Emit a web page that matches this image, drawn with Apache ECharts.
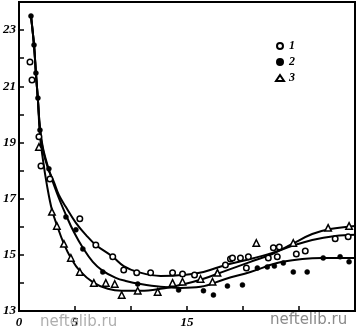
<!DOCTYPE html>
<html>
<head>
<meta charset="utf-8">
<script src="https://cdn.jsdelivr.net/npm/echarts@6/dist/echarts.min.js"></script>
<style>html,body{margin:0;padding:0;background:#fff}#c{width:360px;height:330px}</style>
</head>
<body>
<div id="c"></div>
<script>
// Series 1 (open circles)
var s1X = [0.98,1.16,1.78,1.96,2.76,5.43,6.86,8.37,9.35,10.51,11.75,13.71,14.60,15.67,18.43,18.88,19.06,19.77,20.48,20.30,22.26,23.06,22.71,23.24,24.76,25.56,28.23,29.39];
var s1Y = [21.86,21.22,19.20,18.16,17.70,16.28,15.35,14.93,14.46,14.36,14.36,14.36,14.32,14.28,14.64,14.85,14.89,14.89,14.93,14.53,14.89,14.93,15.25,15.28,15.03,15.14,15.57,15.64];
// Series 2 (filled circles)
var s2X = [1.07,1.34,1.51,1.69,1.87,2.67,4.19,5.08,5.70,7.48,10.60,14.25,16.47,17.36,18.61,19.95,21.28,22.17,22.80,23.60,24.49,25.73,27.16,28.67,29.47];
var s2Y = [23.50,22.47,21.47,20.58,19.44,18.06,16.35,15.89,15.21,14.39,13.96,13.75,13.72,13.57,13.89,13.93,14.53,14.57,14.60,14.71,14.39,14.39,14.89,14.93,14.75];
// Series 3 (open triangles)
var s3X = [1.78,2.94,3.38,4.01,4.63,5.43,6.68,7.75,8.55,9.17,10.60,12.38,13.71,14.60,16.21,17.28,17.72,21.19,24.49,27.60,29.47];
var s3Y = [18.84,16.53,16.03,15.39,14.89,14.39,14.00,14.00,13.96,13.57,13.72,13.68,14.00,14.04,14.14,14.04,14.36,15.42,15.42,15.96,16.03];
// Fitted curves
var c1X = [1.07,1.34,1.51,1.69,1.87,2.14,2.58,3.12,3.56,4.19,5.08,5.97,6.86,8.37,9.35,10.60,12.64,14.69,16.47,18.43,20.66,22.62,24.40,26.18,28.23,30.0];
var c1Y = [23.50,22.47,21.47,20.51,19.52,18.73,18.09,17.59,17.13,16.70,16.14,15.71,15.35,14.93,14.60,14.39,14.25,14.28,14.39,14.64,14.85,15.07,15.32,15.53,15.67,15.71];
var c2X = [1.07,1.34,1.51,1.69,1.87,2.14,2.67,3.38,4.19,4.90,5.70,6.59,7.48,8.64,9.53,10.86,12.64,14.43,16.21,18.43,20.66,23.51,27.07,30.0];
var c2Y = [23.50,22.47,21.47,20.51,19.52,18.80,18.02,17.20,16.42,15.81,15.25,14.75,14.43,14.18,14.07,13.96,13.86,13.82,13.86,14.14,14.39,14.75,14.89,14.89];
var c3X = [1.07,1.34,1.51,1.69,1.87,2.14,2.49,2.94,3.38,4.01,4.63,5.43,6.68,7.93,9.17,10.86,12.64,14.43,16.21,18.43,20.66,22.62,24.40,26.18,27.78,30.0];
var c3Y = [23.50,22.47,21.47,20.51,19.27,18.38,17.49,16.60,16.06,15.39,14.89,14.43,14.00,13.79,13.72,13.72,13.79,13.93,14.11,14.43,14.75,15.03,15.39,15.74,15.92,16.03];
var xLabels = [0,5,15];
var yLabels = [13,15,17,19,21,23];
var names = ['1','2','3'];

function pairs(xs, ys){ return xs.map(function(x,i){ return [x, ys[i]]; }); }
var FONT = '"Liberation Serif", "DejaVu Serif", serif';
var chart = echarts.init(document.getElementById('c'), null, {renderer:'canvas'});
function curve(xs, ys){
  return {type:'line', data:pairs(xs,ys), smooth:0.4, showSymbol:false, symbol:'none',
    lineStyle:{color:'#000', width:2}, silent:true, z:2};
}
chart.setOption({
  animation:false,
  backgroundColor:'#fff',
  grid:{left:18, right:5, top:2, bottom:19, show:true, borderColor:'#000', borderWidth:2},
  legend:{orient:'vertical', left:270, top:35, itemGap:4, itemWidth:8, itemHeight:6,
    data:names,
    textStyle:{fontFamily:FONT, fontStyle:'italic', fontWeight:'bold', fontSize:12, color:'#000'}},
  xAxis:{type:'value', min:0, max:30, interval:5,
    axisLine:{lineStyle:{color:'#000', width:2}},
    axisTick:{inside:true, length:5, lineStyle:{color:'#000', width:1.5}},
    splitLine:{show:false},
    axisLabel:{margin:5, color:'#000', fontFamily:FONT, fontStyle:'italic', fontWeight:'bold', fontSize:13,
      formatter:function(v){ return xLabels.indexOf(v)>=0 ? String(v) : ''; }}},
  yAxis:{type:'value', min:13, max:24, interval:1,
    axisLine:{lineStyle:{color:'#000', width:2}},
    axisTick:{inside:true, length:5, lineStyle:{color:'#000', width:1.5}},
    splitLine:{show:false},
    axisLabel:{margin:3, color:'#000', fontFamily:FONT, fontStyle:'italic', fontWeight:'bold', fontSize:13,
      formatter:function(v){ return yLabels.indexOf(v)>=0 ? String(v) : ''; }}},
  graphic:[
    {type:'text', left:40, top:315, z:10, style:{text:'neftelib.ru', fill:'#9a9a9a', font:'15px "DejaVu Sans", sans-serif', opacity:0.8}},
    {type:'text', left:270, top:313, z:10, style:{text:'neftelib.ru', fill:'#8a8a8a', font:'15px "DejaVu Sans", sans-serif'}}
  ],
  series:[
    {name:'1', type:'scatter', data:pairs(s1X,s1Y), symbol:'circle', symbolSize:5.5,
      itemStyle:{color:'#fff', borderColor:'#000', borderWidth:1.5, opacity:1}, z:3},
    {name:'2', type:'scatter', data:pairs(s2X,s2Y), symbol:'circle', symbolSize:5,
      itemStyle:{color:'#000', borderColor:'#000', borderWidth:0.5, opacity:1}, z:3},
    {name:'3', type:'scatter', data:pairs(s3X,s3Y), symbol:'triangle', symbolSize:6.5,
      itemStyle:{color:'#fff', borderColor:'#000', borderWidth:1.5, opacity:1}, z:3},
    curve(c1X,c1Y), curve(c2X,c2Y), curve(c3X,c3Y)
  ]
});
</script>
</body>
</html>
